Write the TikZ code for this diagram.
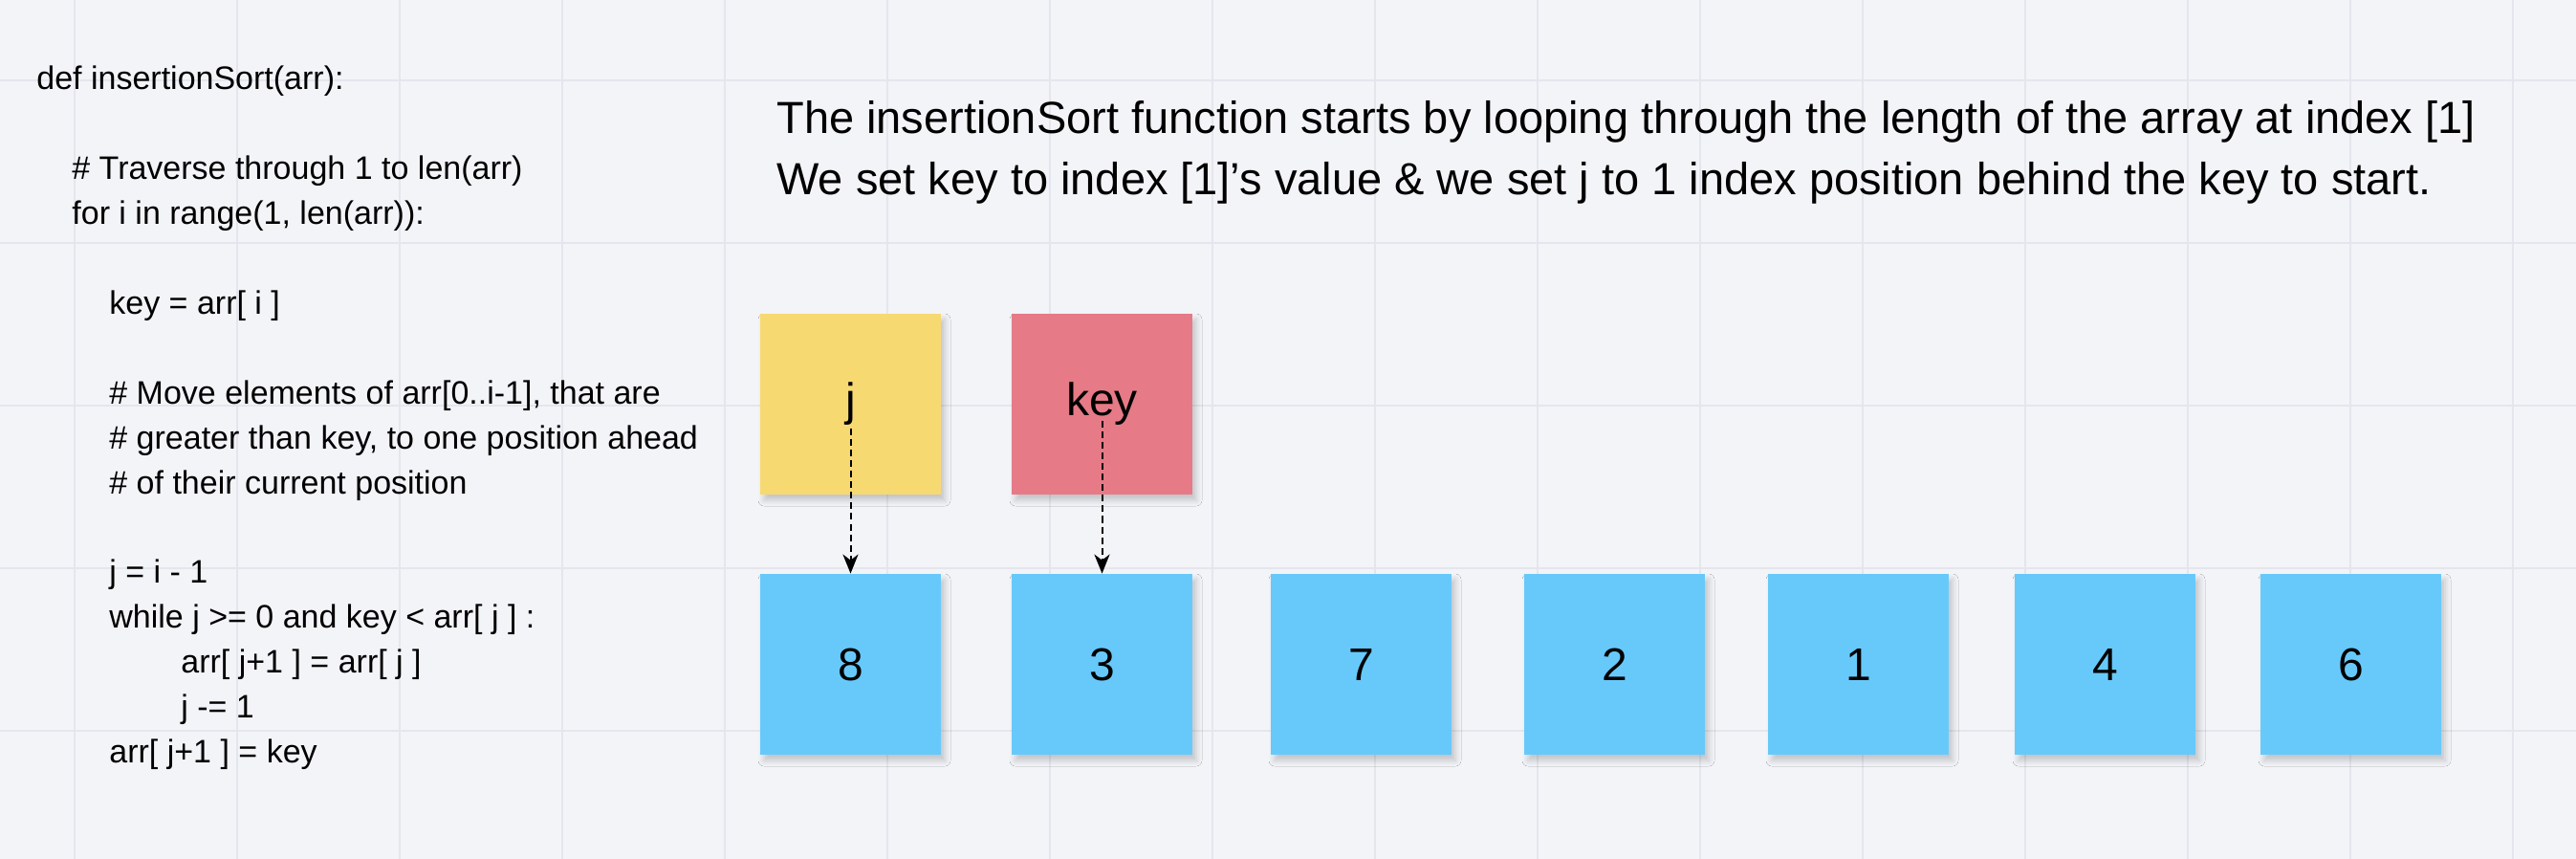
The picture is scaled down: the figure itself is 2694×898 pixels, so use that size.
\documentclass[tikz,border=0pt]{standalone}
\usepackage{fontspec}
\setmainfont{Liberation Sans}
\usetikzlibrary{arrows.meta,shadows.blur}

\definecolor{boardbg}{RGB}{243,244,248}
\definecolor{gridline}{RGB}{229,230,237}
\definecolor{noteyellow}{RGB}{247,217,114}
\definecolor{notered}{RGB}{230,122,135}
\definecolor{noteblue}{RGB}{103,201,250}

\begin{document}
\begin{tikzpicture}[x=0.5pt,y=0.5pt,yscale=-1,xscale=1,
    note/.style={minimum size=94.5pt,inner sep=0pt,font=\fontsize{24}{28}\selectfont,
      blur shadow={shadow xshift=2pt,shadow yshift=-3pt,shadow blur radius=3pt,shadow opacity=20}},
    codeline/.style={anchor=base west,inner sep=0pt,font=\fontsize{17}{20}\selectfont},
    pointer/.style={line width=1pt,dash pattern=on 3.5pt off 2pt,
      -{Stealth[length=10pt,width=8pt,inset=3pt]}}]
  \useasboundingbox (0,0) rectangle (2694,898);

  % Board
  \fill [boardbg] (0,0) rectangle (2694,898);
  \foreach \gx in {0,...,15}
    \draw [gridline,line width=1.2pt] (78+170*\gx,0) -- (78+170*\gx,898);
  \foreach \gy in {0,...,4}
    \draw [gridline,line width=1.2pt] (0,84+170*\gy) -- (2694,84+170*\gy);

  % Code
  \foreach \ln/\ind/\txt in {
      0/38/{def insertionSort(arr):},
      2/75/{\# Traverse through 1 to len(arr)},
      3/75/{for i in range(1, len(arr)):},
      5/114/{key = arr[ i ]},
      7/114/{\# Move elements of arr[0..i-1], that are},
      8/114/{\# greater than key, to one position ahead},
      9/114/{\# of their current position},
      11/114/{j = i - 1},
      12/114/{while j >= 0 and key < arr[ j ] :},
      13/189/{arr[ j+1 ] = arr[ j ]},
      14/189/{j -= 1},
      15/114/{arr[ j+1 ] = key}}
    \node [codeline] (code\ln) at (\ind,94+46.9*\ln) {\txt};

  % Text Node (base = last line)
  \node [anchor=base west,inner sep=0pt,align=left,font=\fontsize{23.5}{32}\selectfont] (intro) at (812,204)
    {The insertionSort function starts by looping through the length of the array at index [1]\\
     We set key to index [1]'s value \& we set j to 1 index position behind the key to start.};

  % Pointer notes
  \node [note,fill=noteyellow] (jbox) at (889.5,422.5) {j};
  \node [note,fill=notered] (keybox) at (1152.5,422.5) {key};

  % Array
  \node [note,fill=noteblue] (a0) at (889.5,694.5) {8};
  \node [note,fill=noteblue] (a1) at (1152.5,694.5) {3};
  \node [note,fill=noteblue] (a2) at (1423.5,694.5) {7};
  \node [note,fill=noteblue] (a3) at (1688.5,694.5) {2};
  \node [note,fill=noteblue] (a4) at (1943.5,694.5) {1};
  \node [note,fill=noteblue] (a5) at (2201.5,694.5) {4};
  \node [note,fill=noteblue] (a6) at (2458.5,694.5) {6};

  \draw [pointer,shorten <=13pt] (jbox.center) -- (a0.north);
  \draw [pointer,shorten <=9pt] (keybox.center) -- (a1.north);
\end{tikzpicture}
\end{document}
